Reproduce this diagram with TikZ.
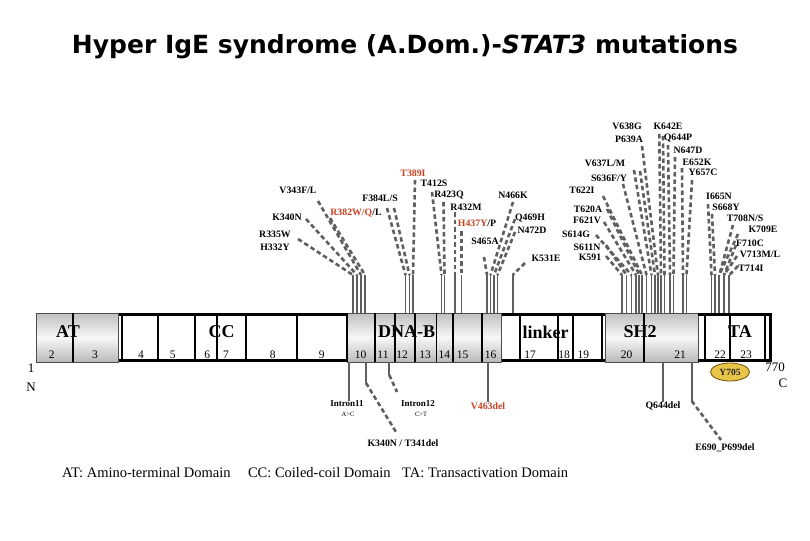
\documentclass[tikz,border=0pt]{standalone}
\usepackage{graphicx}
\usepackage{fontspec}
\setmainfont{Liberation Serif}
\newfontfamily\titlefont{DejaVu Sans}
\usetikzlibrary{shapes.geometric}
\definecolor{mutred}{RGB}{200,64,32}
\definecolor{linegray}{RGB}{95,95,95}
\definecolor{goldfill}{RGB}{232,196,72}
\definecolor{goldedge}{RGB}{110,80,10}
\begin{document}
\begin{tikzpicture}[x=1pt,y=-1pt,
  mut/.style={font=\fontsize{9.8}{11}\selectfont\bfseries, inner sep=0pt},
  small/.style={font=\fontsize{6.5}{7}\selectfont, inner sep=0pt},
  dashl/.style={draw=linegray, line width=2.6pt, dash pattern=on 4.5pt off 3pt},
  soll/.style={draw=linegray, line width=1.8pt},
  graybox/.style={draw=gray!60!black, line width=0.5pt, top color=gray!50, bottom color=gray!55, middle color=gray!6},
  numl/.style={font=\fontsize{11.5}{12}\selectfont, inner sep=0pt},
  dom/.style={font=\fontsize{18}{20}\selectfont\bfseries, inner sep=0pt},
  endl/.style={font=\fontsize{13}{14}\selectfont, inner sep=0pt}]
\useasboundingbox (0,0) rectangle (810,540);
\fill[white] (0,0) rectangle (810,540);

% title
\node[inner sep=0pt] (title) at (405,47) {\resizebox{666pt}{!}{\titlefont\bfseries Hyper IgE syndrome (A.Dom.)-\textit{STAT3} mutations}};

% ---------------- mutation lines above the bar
\foreach \n/\sx/\sy/\bx in {
  1/298/239/353, 2/306/219/357, 3/318/201/361, 4/330/218/365,
  5/387/208/405.5, 6/394/208/409.5, 7/415/180/413,
  8/432/192/441.5, 9/443.5/202/444.5, 10/455/212/455, 11/461.5/231/461.5,
  12/484/257/487, 13/513/202/490.5, 14/515/219/494, 15/515/232/497.5, 16/525/263/512.7,
  17/606/256/622, 18/606/245/626.5, 19/596/235/631.5, 20/604/222/636,
  21/607/209/639.3, 22/603/196/642, 23/623/184/646.5, 24/634/170/651.5,
  25/640/171/655, 26/642/146/658, 27/659.3/134/661, 28/663/136/664.5,
  29/668/145/670, 30/675/157/673.5, 31/682/168/683, 32/692/180/686.5,
  33/708/204/711.5, 34/712/214/715, 35/733/225/719.3, 36/738/234/719.3,
  37/736/245/724, 38/737/256/724, 39/738/266/729.3}{
  \coordinate (ms\n) at (\sx,\sy);
  \coordinate (mb\n) at (\bx,275);
  \coordinate (me\n) at (\bx,313);
  \draw[dashl] (ms\n) -- (mb\n);
  \draw[soll] (mb\n) -- (me\n);
}

% ---------------- bar
\foreach \a/\b in {36.7/118, 347.3/375, 375/395, 395/415, 415/436.7, 436.7/453, 453/482, 482/501.7, 605/698}{
  \path[graybox] (\a,313) rectangle (\b,362);
}
\foreach \a/\b in {119/347.3, 501.7/605, 698/771.7}{
  \draw[line width=3.2pt] (\a,314.8) -- (\b,314.8);
  \draw[line width=3.2pt] (\a,360.6) -- (\b,360.6);
}
\foreach \x in {121.7,158,195,217,246,297,347.3,520,558.3,573.3,601.7,705,730,764.5,73.3,644}{
  \draw[line width=2pt] (\x,313) -- (\x,362);
}
\draw[line width=2.6pt] (770.5,313) -- (770.5,362);
\foreach \x in {375,395,415,436.7,453,482}{
  \draw[line width=1.1pt] (\x,313) -- (\x,362);
}

% domain labels
\node[dom] (dAT) at (68,332) {AT};
\node[dom] (dCC) at (221.5,332) {CC};
\node[dom] (dDNA) at (406.7,332) {DNA-B};
\node[dom] (dLink) at (545.7,332) {linker};
\node[dom] (dSH2) at (640,332) {SH2};
\node[dom] (dTA) at (740,332) {TA};

% exon numbers
\foreach \t/\x in {2/51.7, 3/95, 4/141, 5/172.7, 6/207.3, 7/226, 8/272.7, 9/321.7, 10/360.7, 11/383, 12/402, 13/425, 14/444.3, 15/462.7, 16/490.5, 17/530, 18/564, 19/583.3, 20/626.7, 21/680, 22/720, 23/746}{
  \node[numl] (ex\t) at (\x,355) {\t};
}

% ends
\node[endl] (n1) at (31,368) {1};
\node[endl] (nN) at (31,387) {N};
\node[endl] (n770) at (775,367) {770};
\node[endl] (nC) at (783,383) {C};

% Y705
\node[ellipse, draw=goldedge, line width=0.8pt, fill=goldfill, minimum width=39pt, minimum height=18pt, inner sep=0pt,
      font=\fontsize{9.5}{10}\selectfont\bfseries, text=black!85] (y705) at (730,372) {Y705};

% ---------------- mutation labels (left / middle)
\node[mut] (lV343) at (298,190) {V343F/L};
\node[mut] (lK340) at (287,217) {K340N};
\node[mut] (lR335) at (275,234) {R335W};
\node[mut] (lH332) at (275,247) {H332Y};
\node[mut] (lR382) at (356,213) {\textcolor{mutred}{R382W/Q}/L};
\node[mut] (lF384) at (380,198) {F384L/S};
\node[mut, text=mutred] (lT389) at (413,173) {T389I};
\node[mut] (lT412) at (434,183) {T412S};
\node[mut] (lR423) at (449,195) {R423Q};
\node[mut] (lR432) at (466,207) {R432M};
\node[mut] (lH437) at (477,223) {\textcolor{mutred}{H437Y}/P};
\node[mut] (lN466) at (513,195) {N466K};
\node[mut] (lQ469) at (530,218) {Q469H};
\node[mut] (lN472) at (532,230) {N472D};
\node[mut] (lS465) at (485,241) {S465A};
\node[mut] (lK531) at (546,258) {K531E};

% right
\node[mut] (lV638) at (627,126) {V638G};
\node[mut] (lP639) at (629,139) {P639A};
\node[mut] (lK642) at (668,126) {K642E};
\node[mut] (lQ644) at (678,138) {Q644P};
\node[mut] (lN647) at (688,150) {N647D};
\node[mut] (lV637) at (605,163) {V637L/M};
\node[mut] (lE652) at (697,162) {E652K};
\node[mut] (lY657) at (703,172) {Y657C};
\node[mut] (lS636) at (609,178) {S636F/Y};
\node[mut] (lT622) at (582,190) {T622I};
\node[mut] (lI665) at (719,196) {I665N};
\node[mut] (lS668) at (726,207) {S668Y};
\node[mut] (lT620) at (588,209) {T620A};
\node[mut] (lT708) at (745,218) {T708N/S};
\node[mut] (lF621) at (587,220) {F621V};
\node[mut] (lK709) at (763,229) {K709E};
\node[mut] (lS614) at (576,234) {S614G};
\node[mut] (lF710) at (750,243) {F710C};
\node[mut] (lS611) at (587,247) {S611N};
\node[mut] (lV713) at (760,254) {V713M/L};
\node[mut] (lK591) at (590,257) {K591};
\node[mut] (lT714) at (751,268) {T714I};

% ---------------- below the bar
\node[mut, font=\fontsize{9}{10}\selectfont\bfseries] (i11) at (347,404) {Intron11};
\node[small] (i11b) at (348,414) {A>C};
\node[mut, font=\fontsize{9}{10}\selectfont\bfseries] (i12) at (418,404) {Intron12};
\node[small] (i12b) at (421,414) {C>T};
\node[mut] (k340del) at (403,443) {K340N / T341del};
\node[mut, text=mutred] (v463) at (488,406) {V463del};
\node[mut] (q644) at (663,406) {Q644del};
\node[mut] (e690) at (725,448) {E690\_P699del};

\coordinate (b1) at (349.3,362);
\draw[soll] (b1) -- (b1 |- i11.north);
\coordinate (b2) at (366,362);
\coordinate (b2m) at (366,383);
\coordinate (b2e) at (396,432);
\draw[soll] (b2) -- (b2m);
\draw[dashl] (b2m) -- (b2e);
\coordinate (b3) at (389.3,362);
\coordinate (b3m) at (389.3,375);
\coordinate (b3e) at (397,392);
\draw[soll] (b3) -- (b3m);
\draw[dashl] (b3m) -- (b3e);
\coordinate (b4) at (487.7,362);
\draw[soll] (b4) -- (b4 |- v463.north);
\coordinate (b5) at (662.7,362);
\draw[soll] (b5) -- (b5 |- q644.north);
\coordinate (b6) at (691.7,362);
\coordinate (b6m) at (691.7,401);
\coordinate (b6e) at (721,440);
\draw[soll] (b6) -- (b6m);
\draw[dashl] (b6m) -- (b6e);

% footer
\node[anchor=west, inner sep=0pt, font=\fontsize{14.5}{16}\selectfont] (foot) at (62,473)
  {AT: Amino-terminal Domain\hspace{1.2em}CC: Coiled-coil Domain\hspace{0.8em}TA: Transactivation Domain};
\end{tikzpicture}
\end{document}
